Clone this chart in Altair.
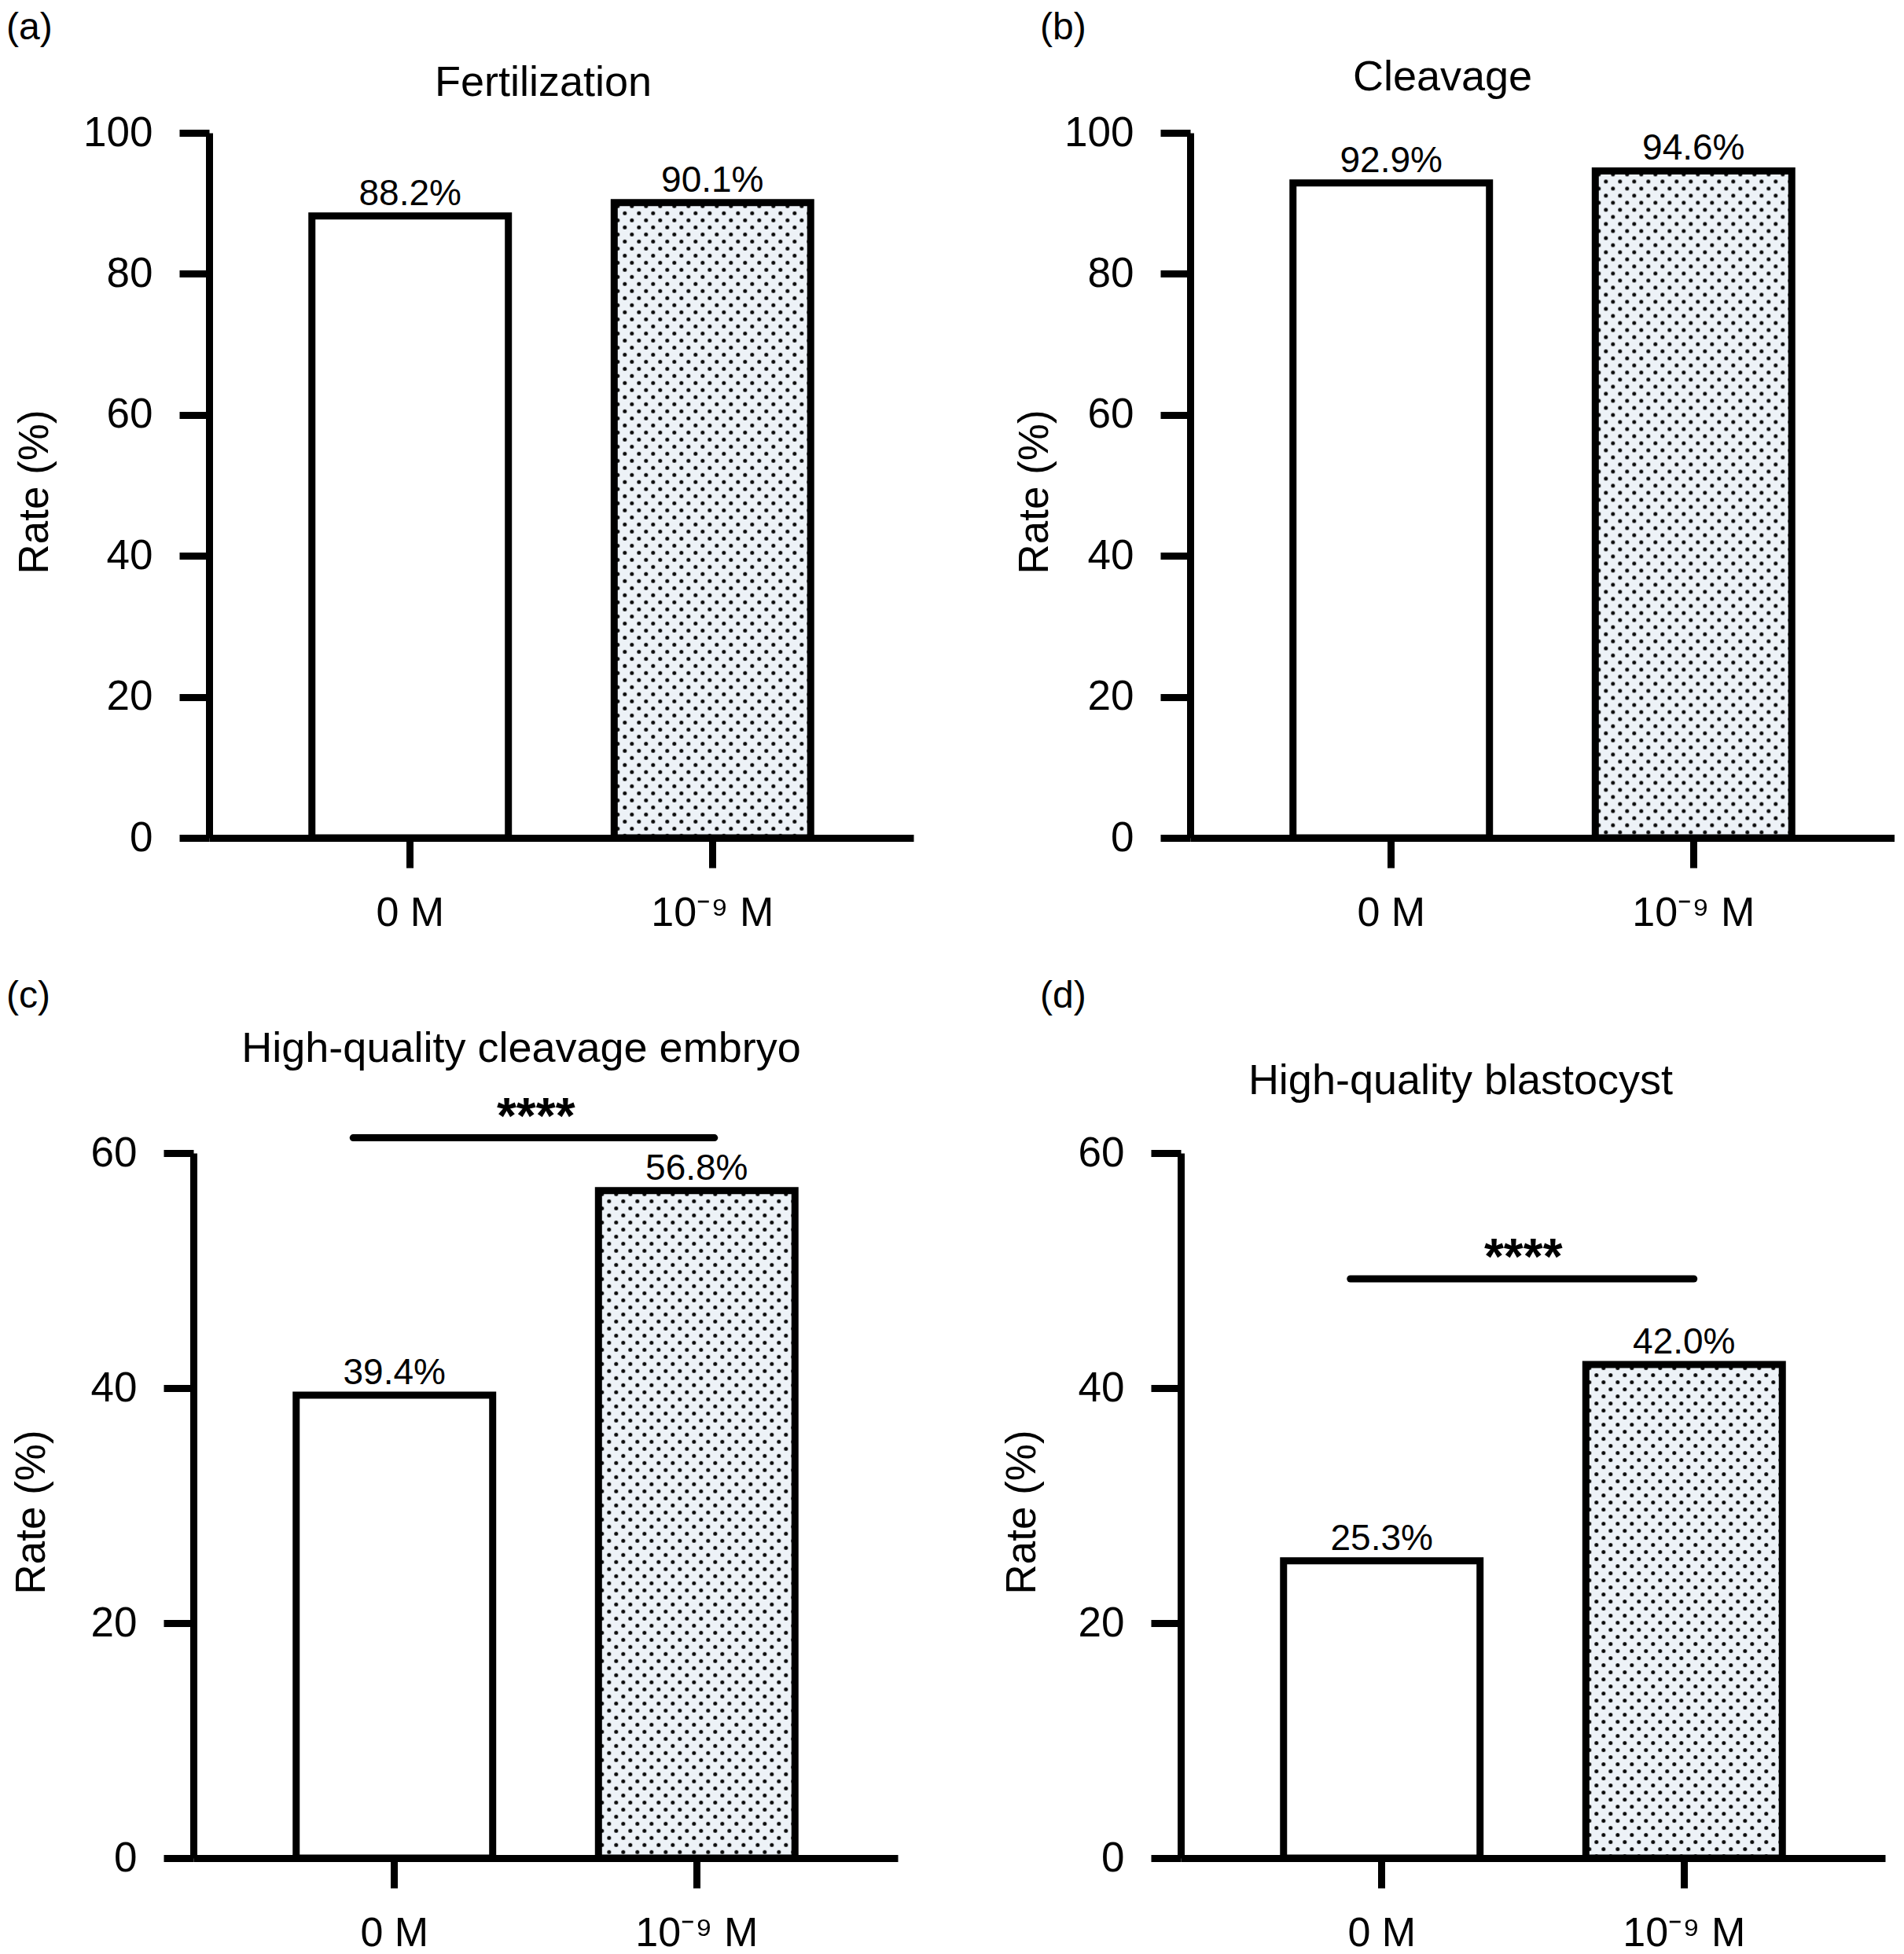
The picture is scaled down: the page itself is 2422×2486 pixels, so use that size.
import base64
import altair as alt
import pandas as pd

FONT = "Liberation Sans, Arial, Helvetica, sans-serif"

# ---------------- data ----------------
groups = ["0 M", "10\u207b\u2079 M"]
patterns = ["open", "dots"]
panel_letters = ["(a)", "(b)", "(c)", "(d)"]
panel_titles = ["Fertilization", "Cleavage",
                "High-quality cleavage embryo", "High-quality blastocyst"]
rates_a = [88.2, 90.1]
rates_b = [92.9, 94.6]
rates_c = [39.4, 56.8]
rates_d = [25.3, 42.0]
y_max = [100, 100, 60, 60]
y_ticks_ab = [0, 20, 40, 60, 80, 100]
y_ticks_cd = [0, 20, 40, 60]
sig_text = ["", "", "****", "****"]
sig_level = [None, None, 61.3, 49.3]

# ---------------- layout / style ----------------
W, H = 896, 897
PAD_IN, PAD_OUT = 0.35, 0.34
STEP = W / (len(groups) - PAD_IN + 2 * PAD_OUT)
BW = STEP * (1 - PAD_IN)

layout = [
    dict(inset=20, lx=-238, ly=-133, tx=445, ty=-63, atx=-222),
    dict(inset=0, lx=-191, ly=-133, tx=321, ty=-70, atx=-198),
    dict(inset=0, lx=-238, ly=-199, tx=417, ty=-132, atx=-206, b1=0.29, b2=0.59, sdx=180),
    dict(inset=0, lx=-179, ly=-199, tx=356, ty=-91, atx=-202, b1=0.34, b2=0.55, sdx=180),
]


def dot_url(w, h):
    svg = (
        f'<svg xmlns="http://www.w3.org/2000/svg" width="{w:.2f}" height="{h:.2f}" '
        f'viewBox="0 0 {w:.2f} {h:.2f}">'
        '<defs><pattern id="p" x="0" y="0" width="18" height="18" patternUnits="userSpaceOnUse">'
        '<circle cx="4.5" cy="4.5" r="2.5" fill="#0a0a0a"/>'
        '<circle cx="13.5" cy="13.5" r="2.5" fill="#0a0a0a"/></pattern></defs>'
        '<rect x="0" y="0" width="100%" height="100%" fill="#edf2f7"/>'
        '<rect x="0" y="0" width="100%" height="100%" fill="url(#p)"/></svg>'
    )
    return "data:image/svg+xml;base64," + base64.b64encode(svg.encode("utf-8")).decode("ascii")


def panel(i, rates, ymax, ticks):
    lay = layout[i]
    inset = lay["inset"]
    df = pd.DataFrame({
        "group": groups,
        "rate": rates,
        "pattern": patterns,
        "label": [f"{r:.1f}%" for r in rates],
    })
    df["url"] = [dot_url(BW, r / ymax * H) if p == "dots" else "" for r, p in zip(rates, patterns)]

    xscale = alt.Scale(domain=groups, paddingInner=PAD_IN, paddingOuter=PAD_OUT,
                       range=[inset, W + inset])
    yscale = alt.Scale(domain=[0, ymax], nice=False, zero=True)
    xenc = alt.X("group:N", scale=xscale, title=None,
                 axis=alt.Axis(labelAngle=0, title=None))
    yenc = alt.Y("rate:Q", scale=yscale, title="Rate (%)",
                 axis=alt.Axis(values=ticks, title="Rate (%)", titleX=lay["atx"],
                               titleY=H / 2 + 8, titleAngle=270, titleAlign="center",
                               titleBaseline="middle", offset=-inset))

    base = alt.Chart(df)
    img = base.transform_filter("datum.pattern == 'dots'").mark_image(aspect=False).encode(
        x=xenc, y=yenc, y2=alt.datum(0), url="url:N")
    bars = base.mark_bar(stroke="black", strokeWidth=9).encode(
        x=xenc, y=yenc,
        fill=alt.Fill("pattern:N", scale=alt.Scale(domain=patterns,
                                                   range=["#ffffff", "rgba(255,255,255,0)"]),
                      legend=None))
    labels = base.mark_text(baseline="alphabetic", dy=-14, fontSize=46, font=FONT,
                            color="black").encode(x=xenc, y=yenc, text="label:N")
    layers = [img, bars, labels]

    if sig_level[i] is not None:
        sdf = pd.DataFrame({"group": [groups[0]], "group2": [groups[1]],
                            "rate": [sig_level[i]], "t": [sig_text[i]]})
        rule = alt.Chart(sdf).mark_rule(strokeWidth=9, strokeCap="round", color="black").encode(
            x=alt.X("group:N", scale=xscale, title=None, bandPosition=lay["b1"]),
            x2=alt.X2("group2:N", bandPosition=lay["b2"]),
            y=alt.Y("rate:Q", scale=yscale, title="Rate (%)"))
        stars = alt.Chart(sdf).mark_text(fontSize=64, fontWeight="bold", font=FONT,
                                         baseline="alphabetic", dx=lay["sdx"], dy=-6,
                                         color="black").encode(
            x=alt.X("group:N", scale=xscale, title=None),
            y=alt.Y("rate:Q", scale=yscale, title="Rate (%)"),
            text="t:N")
        layers += [rule, stars]

    tdf = pd.DataFrame({"t": [panel_titles[i]]})
    title = alt.Chart(tdf).mark_text(fontSize=54, font=FONT, align="center",
                                     baseline="middle", color="black").encode(
        text="t:N", x=alt.value(lay["tx"]), y=alt.value(lay["ty"]))
    ldf = pd.DataFrame({"t": [panel_letters[i]]})
    letter = alt.Chart(ldf).mark_text(fontSize=48, font=FONT, align="left",
                                      baseline="middle", color="black").encode(
        text="t:N", x=alt.value(lay["lx"]), y=alt.value(lay["ly"]))
    layers += [title, letter]

    return alt.layer(*layers).properties(width=W + inset, height=H)


pa = panel(0, rates_a, y_max[0], y_ticks_ab)
pb = panel(1, rates_b, y_max[1], y_ticks_ab)
pc = panel(2, rates_c, y_max[2], y_ticks_cd)
pd_ = panel(3, rates_d, y_max[3], y_ticks_cd)

row1 = alt.hconcat(pa, pb, spacing=352, bounds="flush")
row2 = alt.hconcat(pc, pd_, spacing=360, bounds="flush")

chart = alt.vconcat(row1, row2, spacing=57).properties(
    padding={"top": 4, "left": 0, "right": 0, "bottom": 0}, background="white"
).configure_view(stroke=None).configure_axis(
    domainColor="black", domainWidth=9, tickColor="black", tickWidth=9, tickSize=38,
    labelColor="black", labelFont=FONT, labelFontSize=53, titleFont=FONT,
    titleFontSize=53, titleFontWeight="normal", titleColor="black", grid=False,
    labelOverlap=False
).configure_axisX(labelPadding=32, labelFontSize=52).configure_axisY(labelPadding=34)

chart.save("out.html", embed_options={"renderer": "svg", "actions": False})
